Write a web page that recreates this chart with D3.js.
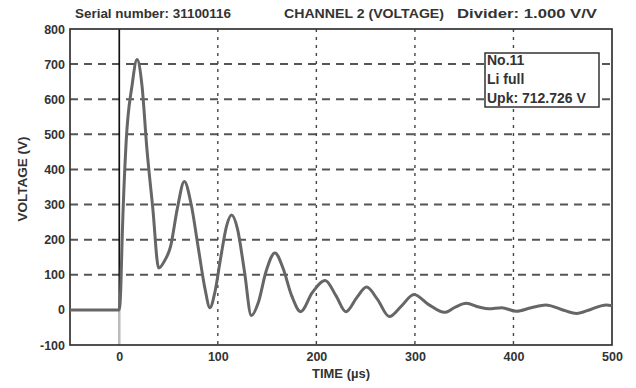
<!DOCTYPE html>
<html>
<head>
<meta charset="utf-8">
<script src="https://cdn.jsdelivr.net/npm/d3@7"></script>
<style>
  body { margin: 0; background: #fff; }
  svg text { font-family: "Liberation Sans", Arial, sans-serif; font-weight: bold; fill: #333; }
</style>
</head>
<body>
<div id="chart"></div>
<script>
// Chart data
const timeUs = [-50, 0, 1.5, 3, 7, 13, 18, 23, 28, 34, 40, 46, 52, 59, 66, 73, 80, 87, 92, 97, 103, 109, 114, 120, 127, 134, 141, 149, 158, 166, 175, 184, 196, 209, 220, 230, 241, 251, 262, 274, 286, 299, 314, 330, 341, 352, 365, 375, 388, 403, 418, 433, 448, 464, 479, 494, 500];
const voltage = [0, 0, 60, 210, 480, 640, 713, 640, 460, 290, 119, 140, 180, 290, 366, 300, 180, 60, 6, 50, 150, 240, 270, 230, 110, -16, 20, 110, 162, 120, 40, -5, 50, 84, 40, -5, 35, 65, 30, -19, 10, 44, 15, -7, 8, 19, 8, 3, 6, -4, 6, 14, 2, -10, 2, 14, 12];
const xTicks = [0, 100, 200, 300, 400, 500];
const yTicks = [-100, 0, 100, 200, 300, 400, 500, 600, 700, 800];
const xGrid = [100, 200, 300, 400];
const yGrid = [100, 200, 300, 400, 500, 600, 700];
const legendLines = ["No.11", "Li full", "Upk: 712.726 V"];

const width = 636, height = 388;
const m = { left: 70, right: 612, top: 29, bottom: 345 };

const svg = d3.select("#chart").append("svg")
    .attr("width", width)
    .attr("height", height);

const x = d3.scaleLinear().domain([-50, 500]).range([m.left, m.right]);
const y = d3.scaleLinear().domain([-100, 800]).range([m.bottom, m.top]);

// header texts
svg.append("text").attr("x", 75).attr("y", 18).style("font-size", "13px")
    .attr("textLength", 156).attr("lengthAdjust", "spacingAndGlyphs")
    .text("Serial number:  31100116");
svg.append("text").attr("x", 284).attr("y", 18).style("font-size", "13.5px")
    .attr("textLength", 160).attr("lengthAdjust", "spacingAndGlyphs")
    .text("CHANNEL 2 (VOLTAGE)");
svg.append("text").attr("x", 457).attr("y", 18).style("font-size", "13.5px")
    .attr("textLength", 140).attr("lengthAdjust", "spacingAndGlyphs")
    .text("Divider: 1.000 V/V");

// horizontal dashed grid
svg.selectAll(".hgrid")
    .data(yGrid)
    .enter().append("line")
    .attr("class", "hgrid")
    .attr("x1", m.left).attr("x2", m.right)
    .attr("y1", d => y(d)).attr("y2", d => y(d))
    .style("stroke", "#555")
    .style("stroke-width", 2)
    .style("stroke-dasharray", "8,6");

// vertical dashed grid
svg.selectAll(".vgrid")
    .data(xGrid)
    .enter().append("line")
    .attr("class", "vgrid")
    .attr("x1", d => x(d)).attr("x2", d => x(d))
    .attr("y1", m.top).attr("y2", m.bottom)
    .style("stroke", "#444")
    .style("stroke-width", 1.4)
    .style("stroke-dasharray", "3,5");

// trigger line at t = 0
svg.append("line")
    .attr("x1", x(0)).attr("x2", x(0))
    .attr("y1", m.top).attr("y2", y(0))
    .style("stroke", "#111")
    .style("stroke-width", 1.7);
svg.append("line")
    .attr("x1", x(0)).attr("x2", x(0))
    .attr("y1", y(0)).attr("y2", m.bottom)
    .style("stroke", "#bbb")
    .style("stroke-width", 2.5);

// frame
svg.append("rect")
    .attr("x", m.left).attr("y", m.top)
    .attr("width", m.right - m.left).attr("height", m.bottom - m.top)
    .style("fill", "none")
    .style("stroke", "#333")
    .style("stroke-width", 1.7);

// waveform
const points = timeUs.map((t, i) => [t, voltage[i]]);
svg.append("path")
    .datum(points)
    .attr("fill", "none")
    .style("stroke", "#666")
    .style("stroke-width", 3)
    .style("stroke-linejoin", "round")
    .attr("d", d3.line()
        .x(d => x(d[0]))
        .y(d => y(d[1]))
        .curve(d3.curveMonotoneX));

// axes (labels only)
const yAxis = svg.append("g")
    .attr("transform", `translate(${m.left},0)`)
    .call(d3.axisLeft(y).tickValues(yTicks).tickSize(0).tickPadding(5).tickFormat(d => String(d)));
const xAxis = svg.append("g")
    .attr("transform", `translate(0,${m.bottom})`)
    .call(d3.axisBottom(x).tickValues(xTicks).tickSize(0).tickPadding(7).tickFormat(d => String(d)));
[xAxis, yAxis].forEach(a => {
    a.select(".domain").remove();
    a.selectAll("text").style("font-size", "12.5px").style("font-family", null);
});

// axis titles
svg.append("text")
    .attr("x", (m.left + m.right) / 2).attr("y", 378)
    .attr("text-anchor", "middle")
    .style("font-size", "13px")
    .text("TIME (\u00b5s)");
svg.append("text")
    .attr("transform", `translate(27,${(m.top + m.bottom) / 2 - 8}) rotate(-90)`)
    .attr("text-anchor", "middle")
    .style("font-size", "13.5px")
    .text("VOLTAGE (V)");

// info box
svg.append("rect")
    .attr("x", 485).attr("y", 53)
    .attr("width", 114).attr("height", 54)
    .style("fill", "#fff")
    .style("stroke", "#333")
    .style("stroke-width", 1.5);
svg.selectAll(".legend")
    .data(legendLines)
    .enter().append("text")
    .attr("class", "legend")
    .attr("x", 487)
    .attr("y", (d, i) => 65 + i * 19)
    .style("font-size", "14px")
    .text(d => d);
</script>
</body>
</html>
